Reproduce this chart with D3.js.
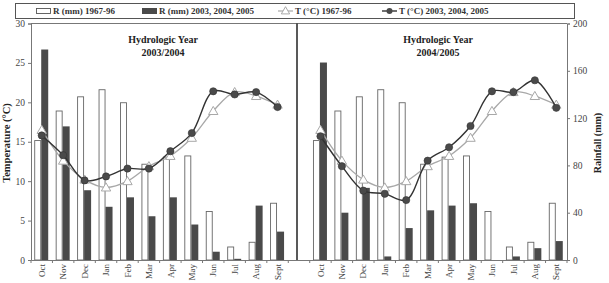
<!DOCTYPE html>
<html>
<head>
<meta charset="utf-8">
<script src="https://cdn.jsdelivr.net/npm/d3@7"></script>
<style>
  body { margin: 0; background: #fff; }
  svg { display: block; font-family: "Liberation Serif", "DejaVu Serif", serif; }
</style>
</head>
<body>
<svg id="chart" width="609" height="283"></svg>
<script>
const months = ["Oct", "Nov", "Dec", "Jan", "Feb", "Mar", "Apr", "May", "Jun", "Jul", "Aug", "Sept"];
const years = ["2003/2004", "2004/2005"];

// rainfall (mm)
const rainNormal = [101, 126, 138, 144, 133, 81, 87, 88, 41, 11, 15, 48];
const rain0304 = [178, 113, 59, 45, 53, 37, 53, 30, 7, 1, 46, 24];
const rain0405 = [167, 40, 61, 3, 27, 42, 46, 48, 0, 3, 10, 16];

// temperature (°C)
const tempNormal = [16.5, 12.6, 10.2, 9.2, 10.0, 11.9, 13.2, 15.5, 18.9, 21.3, 20.8, 19.7];
const temp0304 = [15.8, 13.3, 10.1, 10.6, 11.6, 11.6, 13.8, 16.1, 21.4, 21.0, 21.3, 19.4];
const temp0405 = [15.7, 11.9, 8.8, 8.4, 7.6, 12.6, 14.3, 17.0, 21.4, 21.3, 22.8, 19.3];

const tempTicks = [0, 5, 10, 15, 20, 25, 30];
const rainTicks = [0, 40, 80, 120, 160, 200];

const legendItems = [
    {label: "R (mm) 1967-96", kind: "openBar", x: 36},
    {label: "R (mm) 2003, 2004, 2005", kind: "darkBar", x: 142},
    {label: "T (°C) 1967-96", kind: "triangle", x: 278},
    {label: "T (°C) 2003, 2004, 2005", kind: "circle", x: 382}
];

const rainRecent = [rain0304, rain0405];
const tempRecent = [temp0304, temp0405];

const plotLeft = 31, plotRight = 567, plotTop = 23.5, plotBottom = 260;
const dark = "#4a4a4a", grey = "#a8a8a8", axisCol = "#777";

const svg = d3.select("#chart");

// one band per month of each panel, plus an empty slot between them
const keys = [];
months.forEach(m => keys.push("0-" + m));
keys.push("gap");
months.forEach(m => keys.push("1-" + m));

const x = d3.scaleBand().domain(keys).range([plotLeft, plotRight]);
const yT = d3.scaleLinear().domain([0, 30]).range([plotBottom, plotTop]);
const yR = d3.scaleLinear().domain([0, 200]).range([plotBottom, plotTop]);
const cx = k => x(k) + x.bandwidth() / 2;

// frame
svg.append("line").attr("x1", plotLeft).attr("x2", plotRight).attr("y1", plotTop).attr("y2", plotTop)
    .attr("stroke", axisCol).attr("stroke-width", 1);

// bars
years.forEach((yr, p) => {
    const g = svg.append("g").attr("class", "panel-" + p);
    g.selectAll(".normal")
        .data(months)
        .join("rect")
        .attr("class", "normal")
        .attr("x", (m) => cx(p + "-" + m) - 7)
        .attr("y", (m, i) => yR(rainNormal[i]))
        .attr("width", 6)
        .attr("height", (m, i) => plotBottom - yR(rainNormal[i]))
        .attr("fill", "#fff")
        .attr("stroke", "#666")
        .attr("stroke-width", 0.9);
    g.selectAll(".recent")
        .data(months)
        .join("rect")
        .attr("class", "recent")
        .attr("x", (m) => cx(p + "-" + m) - 0.5)
        .attr("y", (m, i) => yR(rainRecent[p][i]))
        .attr("width", 7)
        .attr("height", (m, i) => plotBottom - yR(rainRecent[p][i]))
        .attr("fill", dark);
});

// temperature lines
const line = d3.line().curve(d3.curveCatmullRom.alpha(0.5));
years.forEach((yr, p) => {
    const ptsN = months.map((m, i) => [cx(p + "-" + m), yT(tempNormal[i])]);
    const ptsR = months.map((m, i) => [cx(p + "-" + m), yT(tempRecent[p][i])]);

    svg.append("path").attr("d", line(ptsN))
        .attr("fill", "none").attr("stroke", grey).attr("stroke-width", 1.3);
    svg.append("g").selectAll("path")
        .data(ptsN)
        .join("path")
        .attr("transform", d => "translate(" + d[0] + "," + (d[1] + 0.8) + ")")
        .attr("d", d3.symbol().type(d3.symbolTriangle).size(38)())
        .attr("fill", "#fff").attr("stroke", grey).attr("stroke-width", 1);

    svg.append("path").attr("d", line(ptsR))
        .attr("fill", "none").attr("stroke", "#333").attr("stroke-width", 1.4);
    svg.append("g").selectAll("circle")
        .data(ptsR)
        .join("circle")
        .attr("cx", d => d[0]).attr("cy", d => d[1]).attr("r", 3.6)
        .attr("fill", dark).attr("stroke", "#333").attr("stroke-width", 0.6);
});

// divider between the two hydrologic years
svg.append("line")
    .attr("x1", 297).attr("x2", 297).attr("y1", plotTop).attr("y2", plotBottom)
    .attr("stroke", "#222").attr("stroke-width", 1.5);

// panel titles
const titleX = [163, 438];
years.forEach((yr, p) => {
    const t = svg.append("text").attr("x", titleX[p]).attr("y", 43)
        .attr("text-anchor", "middle").style("font-size", "10px").style("font-weight", "bold")
        .attr("fill", "#222");
    t.append("tspan").attr("x", titleX[p]).text("Hydrologic Year");
    t.append("tspan").attr("x", titleX[p]).attr("dy", 13).text(yr);
});

// axes
const leftAxis = svg.append("g").attr("transform", "translate(" + plotLeft + ",0)")
    .call(d3.axisLeft(yT).tickValues(tempTicks).tickSize(3).tickPadding(3));
const rightAxis = svg.append("g").attr("transform", "translate(" + plotRight + ",0)")
    .call(d3.axisRight(yR).tickValues(rainTicks).tickSize(3).tickPadding(3));
const bottomAxis = svg.append("g").attr("transform", "translate(0," + plotBottom + ")")
    .call(d3.axisBottom(x).tickSize(0).tickFormat(k => k === "gap" ? "" : k.slice(2)));

[leftAxis, rightAxis, bottomAxis].forEach(a => {
    a.select(".domain").attr("stroke", axisCol);
    a.selectAll(".tick line").attr("stroke", axisCol);
    a.selectAll("text").style("font-size", "9.5px").attr("fill", "#444")
        .style("font-family", "'Liberation Serif', serif");
});

bottomAxis.selectAll("text")
    .style("font-size", "9px")
    .attr("transform", "rotate(-90)")
    .attr("x", -4).attr("y", 0).attr("dy", "0.35em")
    .style("text-anchor", "end");

// ticks on band boundaries
const bounds = keys.map(k => x(k)).concat([plotRight]);
bottomAxis.selectAll(".bound")
    .data(bounds)
    .join("line")
    .attr("class", "bound")
    .attr("x1", d => d).attr("x2", d => d).attr("y1", 0).attr("y2", 3)
    .attr("stroke", axisCol);

// axis titles
svg.append("text")
    .attr("transform", "translate(10,143) rotate(-90)")
    .attr("text-anchor", "middle").style("font-size", "10.5px").style("font-weight", "bold")
    .attr("fill", "#222").text("Temperature (°C)");
svg.append("text")
    .attr("transform", "translate(601,143) rotate(-90)")
    .attr("text-anchor", "middle").style("font-size", "10px").style("font-weight", "bold")
    .attr("fill", "#222").text("Rainfall (mm)");

// legend
const legend = svg.append("g").attr("class", "legend");
legend.append("rect").attr("x", 15.5).attr("y", 3.5).attr("width", 559).attr("height", 15)
    .attr("fill", "#fff").attr("stroke", "#555").attr("stroke-width", 1);

legendItems.forEach(d => {
    const g = legend.append("g").attr("transform", "translate(" + d.x + ",11)");
    if (d.kind === "openBar") {
        g.append("rect").attr("x", 0.5).attr("y", -2.5).attr("width", 14).attr("height", 5)
            .attr("fill", "#fff").attr("stroke", "#555").attr("stroke-width", 0.9);
    } else if (d.kind === "darkBar") {
        g.append("rect").attr("x", 0).attr("y", -3).attr("width", 15).attr("height", 6)
            .attr("fill", dark);
    } else if (d.kind === "triangle") {
        g.append("line").attr("x1", 0).attr("x2", 15).attr("stroke", grey).attr("stroke-width", 1.2);
        g.append("path").attr("transform", "translate(7.5,0.5)")
            .attr("d", d3.symbol().type(d3.symbolTriangle).size(30)())
            .attr("fill", "#fff").attr("stroke", grey);
    } else {
        g.append("line").attr("x1", 0).attr("x2", 15).attr("stroke", "#333").attr("stroke-width", 1.4);
        g.append("circle").attr("cx", 7.5).attr("r", 3).attr("fill", dark);
    }
    g.append("text").attr("x", 17).attr("dy", "0.35em")
        .style("font-size", "9px").style("font-weight", "bold").attr("fill", "#333")
        .text(d.label);
});
</script>
</body>
</html>
